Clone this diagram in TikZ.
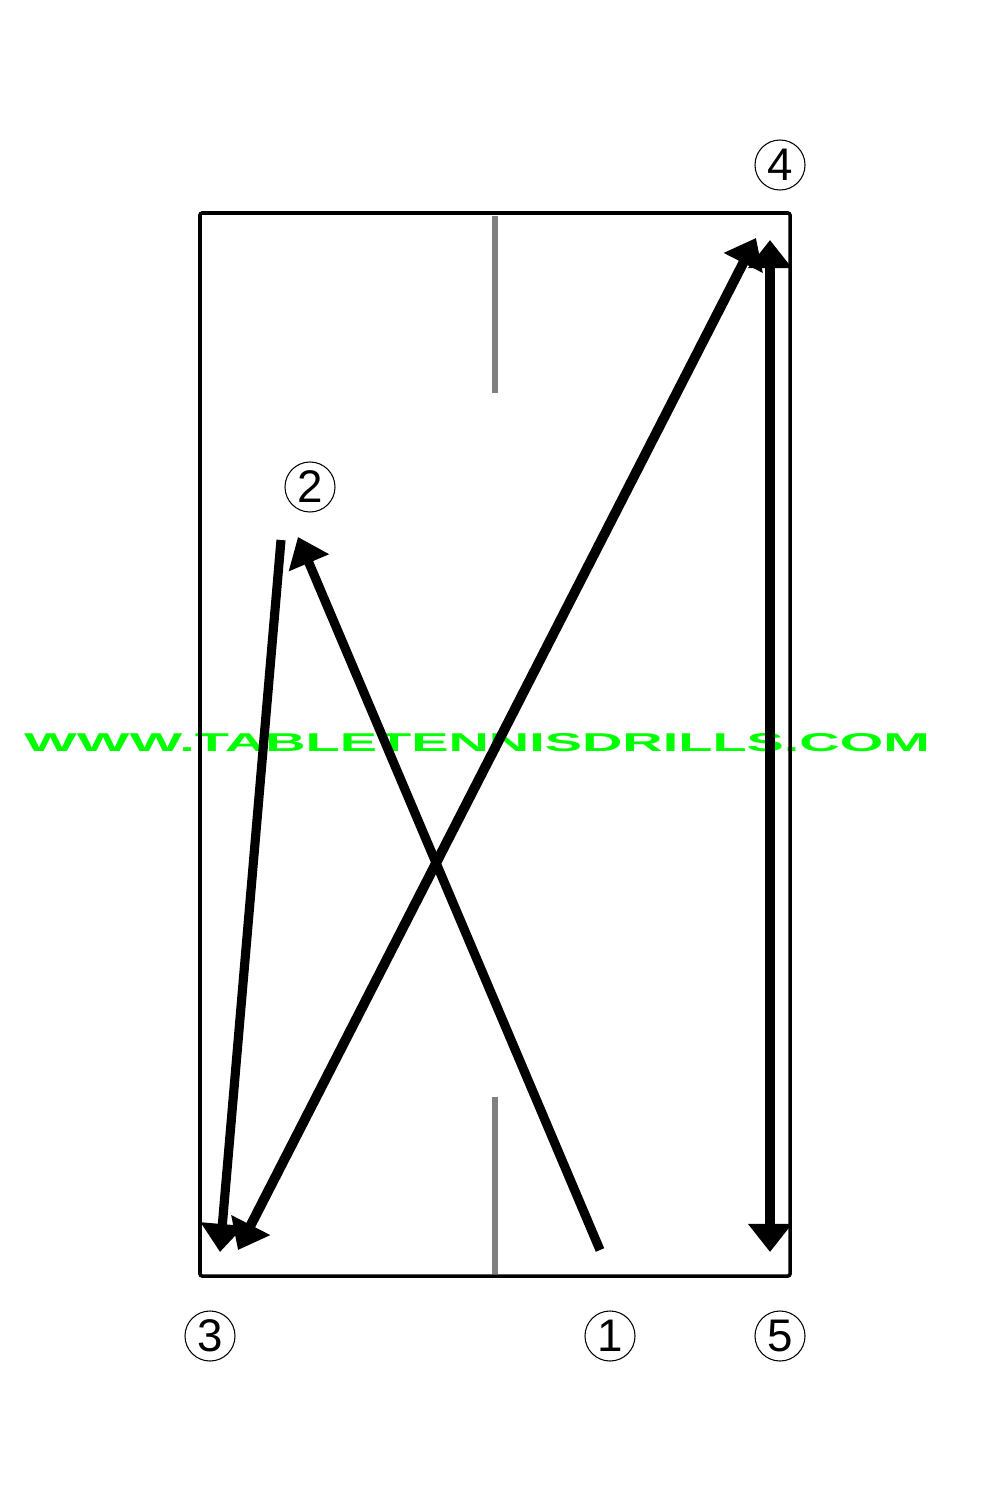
\documentclass[tikz,border=0pt]{standalone}
\usepackage{fontspec}
\setmainfont{Liberation Sans}
\usetikzlibrary{arrows.meta}
\definecolor{wmgreen}{RGB}{0,255,0}
\definecolor{netgray}{RGB}{128,128,128}
\tikzset{
  num/.style={circle,draw,line width=0.3pt,minimum size=0.5cm,inner sep=0pt,font=\fontsize{13pt}{15pt}\selectfont},
  shot/.style={line width=2.6pt,-{Triangle[length=2.8mm,width=4.2mm]}},
  shotboth/.style={line width=2.8pt,{Triangle[length=2.8mm,width=4.2mm]}-{Triangle[length=2.8mm,width=4.2mm]}},
  tableedge/.style={line width=1pt,rounded corners=0.6pt},
  centerline/.style={netgray,line width=1.9pt}
}
\begin{document}
\begin{tikzpicture}[x=0.01cm,y=-0.01cm]
\useasboundingbox (0,0) rectangle (1000,1500);
% watermark
\node[wmgreen,inner sep=0pt] (wm) at (477,743) {\resizebox{9.05cm}{0.18cm}{\bfseries WWW.TABLETENNISDRILLS.COM}};
% table
\draw[tableedge] (200,213) rectangle (790,1276);
\draw[centerline] (495,216) -- (495,393);
\draw[centerline] (495,1097) -- (495,1274);
% numbered positions
\node[num] (n4) at (780,165) {4};
\node[num] (n2) at (310,487) {2};
\node[num] (n3) at (210,1336) {3};
\node[num] (n1) at (610,1336) {1};
\node[num] (n5) at (780,1336) {5};
% shot end points
\coordinate (s1) at (600,1250);
\coordinate (t2) at (298,537);
\coordinate (s2) at (281,540);
\coordinate (t3) at (220,1252);
\coordinate (a3) at (238,1250);
\coordinate (a4) at (756,238);
\coordinate (v4) at (770,240);
\coordinate (v5) at (770,1252);
% shots
\draw[shot] (s1) -- (t2);
\draw[shot] (s2) -- (t3);
\draw[shotboth] (a3) -- (a4);
\draw[shotboth] (v4) -- (v5);
\end{tikzpicture}
\end{document}
